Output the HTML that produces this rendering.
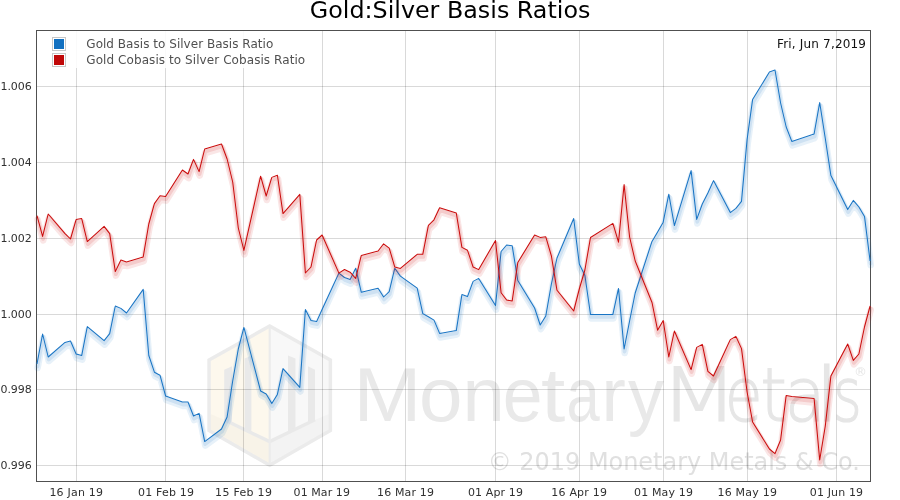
<!DOCTYPE html>
<html><head><meta charset="utf-8"><title>Gold:Silver Basis Ratios</title>
<style>
html,body{margin:0;padding:0;background:#fff;}
body{width:900px;height:500px;overflow:hidden;position:relative;font-family:"DejaVu Sans","Liberation Sans",sans-serif;}
svg{position:absolute;left:0;top:0;display:block;}
text{font-family:"DejaVu Sans","Liberation Sans",sans-serif;}
.wm{font-family:"Liberation Sans","DejaVu Sans",sans-serif;}
</style></head><body>
<svg width="900" height="500" viewBox="0 0 900 500">
<rect width="900" height="500" fill="#fff"/>

<g id="logo">
<polygon points="269.7,324 332.1,358.9 332.1,431.4 269.7,467.3 207.3,431.4 207.3,358.9" fill="#ebebeb"/>
<polygon points="269.7,328 269.7,463.3 210.8,429.4 210.8,360.9" fill="#fdf8ed"/>
<polygon points="269.7,328 328.6,360.9 328.6,429.4 269.7,463.3" fill="#f8f8f8"/>
<polygon points="224.2,369.8 232,366.2 232,424 224.2,420" fill="#e9e9e9"/>
<polygon points="244.6,358.6 251.4,355.4 251.4,433 244.6,429" fill="#e9e9e9"/>
<polygon points="288,355.4 295.5,358.6 295.5,429 288,433" fill="#e9e9e9"/>
<polygon points="308,366.2 315,369.8 315,420 308,424" fill="#e9e9e9"/>
<polygon points="210.8,414 224.2,419.8 269.7,441.6 315,419.8 328.6,414 328.6,429.4 269.7,463.3 210.8,429.4" fill="#000" fill-opacity="0.02"/>
<polyline points="224.2,419.8 269.7,441.6 315,419.8" fill="none" stroke="#e9e9e9" stroke-width="3.4"/>
<rect x="268.6" y="326" width="2.2" height="139" fill="#ebebeb"/>
</g>
<text y="421.3" font-size="76" fill="#e9e9e9" style="font-family:'Liberation Sans','DejaVu Sans',sans-serif"><tspan x="353.5" textLength="67.9" lengthAdjust="spacingAndGlyphs">M</tspan><tspan x="418.9" textLength="43.5" lengthAdjust="spacingAndGlyphs">o</tspan><tspan x="462.4" textLength="42.3" lengthAdjust="spacingAndGlyphs">n</tspan><tspan x="502.7" textLength="39.8" lengthAdjust="spacingAndGlyphs">e</tspan><tspan x="541.1" textLength="24.3" lengthAdjust="spacingAndGlyphs">t</tspan><tspan x="566.6" textLength="33.2" lengthAdjust="spacingAndGlyphs">a</tspan><tspan x="601.6" textLength="24.3" lengthAdjust="spacingAndGlyphs">r</tspan><tspan x="628" textLength="36" lengthAdjust="spacingAndGlyphs">y</tspan></text>
<text y="421.3" font-size="75" fill="#e6e6e6" style="font-family:'DejaVu Sans Light','DejaVu Sans',sans-serif;font-weight:200;stroke:#e6e6e6;stroke-width:1.2px"><tspan x="659.7" textLength="78.6" lengthAdjust="spacingAndGlyphs">M</tspan><tspan x="724.7" textLength="37.9" lengthAdjust="spacingAndGlyphs">e</tspan><tspan x="760.3" textLength="26.6" lengthAdjust="spacingAndGlyphs">t</tspan><tspan x="784.7" textLength="40.9" lengthAdjust="spacingAndGlyphs">a</tspan><tspan x="814.5" textLength="25" lengthAdjust="spacingAndGlyphs">l</tspan><tspan x="833.1" textLength="28.8" lengthAdjust="spacingAndGlyphs">s</tspan></text>
<text x="860.4" y="375.5" font-size="13" fill="#e6e6e6" text-anchor="middle">®</text>
<text x="487.8" y="470" font-size="24" fill="#e0e0e0" textLength="372" lengthAdjust="spacingAndGlyphs">© 2019 Monetary Metals &amp; Co.</text>
<g stroke="#000" stroke-opacity="0.15" stroke-width="1" shape-rendering="crispEdges">
<line x1="76.5" y1="31" x2="76.5" y2="481"/>
<line x1="165.5" y1="31" x2="165.5" y2="481"/>
<line x1="243.5" y1="31" x2="243.5" y2="481"/>
<line x1="322.5" y1="31" x2="322.5" y2="481"/>
<line x1="405.5" y1="31" x2="405.5" y2="481"/>
<line x1="495.5" y1="31" x2="495.5" y2="481"/>
<line x1="579.5" y1="31" x2="579.5" y2="481"/>
<line x1="663.5" y1="31" x2="663.5" y2="481"/>
<line x1="747.5" y1="31" x2="747.5" y2="481"/>
<line x1="836.5" y1="31" x2="836.5" y2="481"/>
<line x1="37" y1="86.5" x2="870" y2="86.5"/>
<line x1="37" y1="162.5" x2="870" y2="162.5"/>
<line x1="37" y1="238.5" x2="870" y2="238.5"/>
<line x1="37" y1="314.5" x2="870" y2="314.5"/>
<line x1="37" y1="389.5" x2="870" y2="389.5"/>
<line x1="37" y1="465.5" x2="870" y2="465.5"/>
</g>
<rect x="45" y="31" width="265" height="37" fill="#fff" opacity="0.85"/>
<rect x="52.5" y="37.5" width="13" height="13" fill="#fff" stroke="#c8c8c8"/><rect x="54" y="39" width="10" height="10" fill="#1270c0"/>
<rect x="52.5" y="53.5" width="13" height="13" fill="#fff" stroke="#c8c8c8"/><rect x="54" y="55" width="10" height="10" fill="#c00808"/>
<text x="86.3" y="48" font-size="12" fill="#505050" textLength="187" lengthAdjust="spacing">Gold Basis to Silver Basis Ratio</text>
<text x="86.3" y="64" font-size="12" fill="#505050" textLength="218.9" lengthAdjust="spacing">Gold Cobasis to Silver Cobasis Ratio</text>
<text x="777" y="48" font-size="12" fill="#111" textLength="89" lengthAdjust="spacing">Fri, Jun 7,2019</text>
<rect x="36.5" y="30.5" width="834" height="451" fill="none" stroke="#505050" stroke-width="1"/>
<polyline points="37.6,368.0 43.2,338.0 48.8,361.0 65.6,346.4 71.1,345.0 76.7,358.0 82.3,359.6 87.9,330.6 104.7,344.6 110.3,337.6 115.9,310.0 121.5,312.4 127.1,317.0 143.8,293.4 149.4,359.5 155.0,376.2 160.6,379.2 166.2,400.0 183.0,406.0 188.6,406.0 194.1,420.0 199.7,417.4 205.3,445.6 222.1,433.0 227.7,421.0 233.3,385.0 238.9,353.0 244.5,331.4 261.2,395.0 266.8,398.0 272.4,407.6 278.0,398.4 283.6,372.6 300.4,391.4 306.0,313.6 311.6,324.4 317.2,325.6 322.7,313.5 339.5,277.1 345.1,281.5 350.7,283.6 356.3,272.2 361.9,296.3 378.7,292.3 384.2,301.0 389.8,295.6 395.4,272.2 401.0,280.2 417.8,292.2 423.4,317.6 429.0,320.8 434.6,324.1 440.2,337.4 456.9,334.6 462.5,298.6 468.1,300.6 473.7,285.4 479.3,282.4 496.1,309.6 501.7,255.5 507.2,249.0 512.8,249.8 518.4,284.5 535.2,312.0 540.8,329.0 546.4,320.0 552.0,288.0 557.6,262.0 574.3,222.5 579.9,268.0 585.5,279.5 591.1,318.4 613.5,318.4 619.1,292.4 624.7,353.0 630.2,325.0 635.8,297.0 652.6,245.4 658.2,236.0 663.8,226.2 669.4,198.2 675.0,229.6 691.7,174.6 697.3,223.4 702.9,208.0 708.5,197.0 714.1,184.6 730.9,216.6 736.5,212.4 742.1,205.4 747.7,143.5 753.2,103.6 770.0,76.0 775.6,74.0 781.2,107.0 786.8,131.0 792.4,145.4 814.7,138.0 820.3,106.6 825.9,142.5 831.5,179.6 848.3,213.6 853.9,204.4 859.5,211.0 865.1,220.4 870.7,265.0" fill="none" stroke="#1874c4" stroke-opacity="0.10" stroke-width="6.6" stroke-linejoin="round" stroke-linecap="round"/>
<polyline points="37.5,366.5 43.1,336.5 48.7,359.5 65.5,344.9 71.0,343.5 76.6,356.5 82.2,358.1 87.8,329.1 104.6,343.1 110.2,336.1 115.8,308.5 121.4,310.9 127.0,315.5 143.7,291.9 149.3,358.0 154.9,374.7 160.5,377.7 166.1,398.5 182.9,404.5 188.5,404.5 194.0,418.5 199.6,415.9 205.2,444.1 222.0,431.5 227.6,419.5 233.2,383.5 238.8,351.5 244.4,329.9 261.1,393.5 266.7,396.5 272.3,406.1 277.9,396.9 283.5,371.1 300.3,389.9 305.9,312.1 311.5,322.9 317.1,324.1 322.6,312.0 339.4,275.6 345.0,280.0 350.6,282.1 356.2,270.7 361.8,294.8 378.6,290.8 384.1,299.5 389.7,294.1 395.3,270.7 400.9,278.7 417.7,290.7 423.3,316.1 428.9,319.3 434.5,322.6 440.1,335.9 456.8,333.1 462.4,297.1 468.0,299.1 473.6,283.9 479.2,280.9 496.0,308.1 501.6,254.0 507.1,247.5 512.7,248.3 518.3,283.0 535.1,310.5 540.7,327.5 546.3,318.5 551.9,286.5 557.5,260.5 574.2,221.0 579.8,266.5 585.4,278.0 591.0,316.9 613.4,316.9 619.0,290.9 624.6,351.5 630.1,323.5 635.7,295.5 652.5,243.9 658.1,234.5 663.7,224.7 669.3,196.7 674.9,228.1 691.6,173.1 697.2,221.9 702.8,206.5 708.4,195.5 714.0,183.1 730.8,215.1 736.4,210.9 742.0,203.9 747.6,142.0 753.1,102.1 769.9,74.5 775.5,72.5 781.1,105.5 786.7,129.5 792.3,143.9 814.6,136.5 820.2,105.1 825.8,141.0 831.4,178.1 848.2,212.1 853.8,202.9 859.4,209.5 865.0,218.9 870.6,263.5" fill="none" stroke="#1874c4" stroke-opacity="0.12" stroke-width="3.8" stroke-linejoin="round" stroke-linecap="round"/>
<polyline points="37.0,364.0 42.6,334.0 48.2,357.0 65.0,342.4 70.5,341.0 76.1,354.0 81.7,355.6 87.3,326.6 104.1,340.6 109.7,333.6 115.3,306.0 120.9,308.4 126.5,313.0 143.2,289.4 148.8,355.5 154.4,372.2 160.0,375.2 165.6,396.0 182.4,402.0 188.0,402.0 193.5,416.0 199.1,413.4 204.7,441.6 221.5,429.0 227.1,417.0 232.7,381.0 238.3,349.0 243.9,327.4 260.6,391.0 266.2,394.0 271.8,403.6 277.4,394.4 283.0,368.6 299.8,387.4 305.4,309.6 311.0,320.4 316.6,321.6 322.1,309.5 338.9,273.1 344.5,277.5 350.1,279.6 355.7,268.2 361.3,292.3 378.1,288.3 383.6,297.0 389.2,291.6 394.8,268.2 400.4,276.2 417.2,288.2 422.8,313.6 428.4,316.8 434.0,320.1 439.6,333.4 456.3,330.6 461.9,294.6 467.5,296.6 473.1,281.4 478.7,278.4 495.5,305.6 501.1,251.5 506.6,245.0 512.2,245.8 517.8,280.5 534.6,308.0 540.2,325.0 545.8,316.0 551.4,284.0 557.0,258.0 573.7,218.5 579.3,264.0 584.9,275.5 590.5,314.4 612.9,314.4 618.5,288.4 624.1,349.0 629.6,321.0 635.2,293.0 652.0,241.4 657.6,232.0 663.2,222.2 668.8,194.2 674.4,225.6 691.1,170.6 696.7,219.4 702.3,204.0 707.9,193.0 713.5,180.6 730.3,212.6 735.9,208.4 741.5,201.4 747.1,139.5 752.6,99.6 769.4,72.0 775.0,70.0 780.6,103.0 786.2,127.0 791.8,141.4 814.1,134.0 819.7,102.6 825.3,138.5 830.9,175.6 847.7,209.6 853.3,200.4 858.9,207.0 864.5,216.4 870.1,261.0" fill="none" stroke="#1874c4" stroke-width="1.02" stroke-linejoin="round"/>
<polyline points="37.6,219.6 43.2,240.4 48.8,218.0 65.6,237.6 71.1,243.0 76.7,223.6 82.3,222.6 87.9,245.6 104.7,230.4 110.3,237.6 115.9,275.6 121.5,264.0 127.1,266.0 143.8,261.0 149.4,228.0 155.0,207.6 160.6,199.8 166.2,200.6 183.0,174.0 188.6,178.0 194.1,163.4 199.7,175.6 205.3,153.0 222.1,148.0 227.7,163.0 233.3,186.0 238.9,232.0 244.5,254.4 261.2,180.2 266.8,200.0 272.4,181.4 278.0,179.2 283.6,217.6 300.4,198.4 306.0,277.0 311.6,271.0 317.2,244.0 322.7,239.0 339.5,277.1 345.1,273.5 350.7,276.2 356.3,282.5 361.9,259.4 378.7,255.0 384.2,247.8 389.8,252.1 395.4,271.1 401.0,272.4 417.8,258.3 423.4,258.3 429.0,229.4 434.6,223.8 440.2,211.8 456.9,217.1 462.5,251.4 468.1,254.3 473.7,271.0 479.3,273.6 496.1,244.5 501.7,296.7 507.2,304.0 512.8,305.0 518.4,266.5 535.2,239.0 540.8,241.4 546.4,240.8 552.0,260.0 557.6,294.3 574.3,315.0 579.9,293.0 585.5,274.0 591.1,241.5 613.5,227.4 619.1,246.2 624.7,188.6 630.2,241.0 635.8,265.0 652.6,306.5 658.2,334.2 663.8,324.5 669.4,361.0 675.0,335.0 691.7,373.6 697.3,351.4 702.9,348.4 708.5,375.4 714.1,380.0 730.9,343.6 736.5,340.4 742.1,352.6 747.7,396.0 753.2,426.0 770.0,453.0 775.6,457.6 781.2,444.0 786.8,399.4 792.4,400.4 814.7,402.6 820.3,464.0 825.9,430.0 831.5,380.0 848.3,348.0 853.9,364.4 859.5,358.0 865.1,331.0 870.7,310.0" fill="none" stroke="#ca0b0b" stroke-opacity="0.10" stroke-width="6.6" stroke-linejoin="round" stroke-linecap="round"/>
<polyline points="37.5,218.1 43.1,238.9 48.7,216.5 65.5,236.1 71.0,241.5 76.6,222.1 82.2,221.1 87.8,244.1 104.6,228.9 110.2,236.1 115.8,274.1 121.4,262.5 127.0,264.5 143.7,259.5 149.3,226.5 154.9,206.1 160.5,198.3 166.1,199.1 182.9,172.5 188.5,176.5 194.0,161.9 199.6,174.1 205.2,151.5 222.0,146.5 227.6,161.5 233.2,184.5 238.8,230.5 244.4,252.9 261.1,178.7 266.7,198.5 272.3,179.9 277.9,177.7 283.5,216.1 300.3,196.9 305.9,275.5 311.5,269.5 317.1,242.5 322.6,237.5 339.4,275.6 345.0,272.0 350.6,274.7 356.2,281.0 361.8,257.9 378.6,253.5 384.1,246.3 389.7,250.6 395.3,269.6 400.9,270.9 417.7,256.8 423.3,256.8 428.9,227.9 434.5,222.3 440.1,210.3 456.8,215.6 462.4,249.9 468.0,252.8 473.6,269.5 479.2,272.1 496.0,243.0 501.6,295.2 507.1,302.5 512.7,303.5 518.3,265.0 535.1,237.5 540.7,239.9 546.3,239.3 551.9,258.5 557.5,292.8 574.2,313.5 579.8,291.5 585.4,272.5 591.0,240.0 613.4,225.9 619.0,244.7 624.6,187.1 630.1,239.5 635.7,263.5 652.5,305.0 658.1,332.7 663.7,323.0 669.3,359.5 674.9,333.5 691.6,372.1 697.2,349.9 702.8,346.9 708.4,373.9 714.0,378.5 730.8,342.1 736.4,338.9 742.0,351.1 747.6,394.5 753.1,424.5 769.9,451.5 775.5,456.1 781.1,442.5 786.7,397.9 792.3,398.9 814.6,401.1 820.2,462.5 825.8,428.5 831.4,378.5 848.2,346.5 853.8,362.9 859.4,356.5 865.0,329.5 870.6,308.5" fill="none" stroke="#ca0b0b" stroke-opacity="0.12" stroke-width="3.8" stroke-linejoin="round" stroke-linecap="round"/>
<polyline points="37.0,215.6 42.6,236.4 48.2,214.0 65.0,233.6 70.5,239.0 76.1,219.6 81.7,218.6 87.3,241.6 104.1,226.4 109.7,233.6 115.3,271.6 120.9,260.0 126.5,262.0 143.2,257.0 148.8,224.0 154.4,203.6 160.0,195.8 165.6,196.6 182.4,170.0 188.0,174.0 193.5,159.4 199.1,171.6 204.7,149.0 221.5,144.0 227.1,159.0 232.7,182.0 238.3,228.0 243.9,250.4 260.6,176.2 266.2,196.0 271.8,177.4 277.4,175.2 283.0,213.6 299.8,194.4 305.4,273.0 311.0,267.0 316.6,240.0 322.1,235.0 338.9,273.1 344.5,269.5 350.1,272.2 355.7,278.5 361.3,255.4 378.1,251.0 383.6,243.8 389.2,248.1 394.8,267.1 400.4,268.4 417.2,254.3 422.8,254.3 428.4,225.4 434.0,219.8 439.6,207.8 456.3,213.1 461.9,247.4 467.5,250.3 473.1,267.0 478.7,269.6 495.5,240.5 501.1,292.7 506.6,300.0 512.2,301.0 517.8,262.5 534.6,235.0 540.2,237.4 545.8,236.8 551.4,256.0 557.0,290.3 573.7,311.0 579.3,289.0 584.9,270.0 590.5,237.5 612.9,223.4 618.5,242.2 624.1,184.6 629.6,237.0 635.2,261.0 652.0,302.5 657.6,330.2 663.2,320.5 668.8,357.0 674.4,331.0 691.1,369.6 696.7,347.4 702.3,344.4 707.9,371.4 713.5,376.0 730.3,339.6 735.9,336.4 741.5,348.6 747.1,392.0 752.6,422.0 769.4,449.0 775.0,453.6 780.6,440.0 786.2,395.4 791.8,396.4 814.1,398.6 819.7,460.0 825.3,426.0 830.9,376.0 847.7,344.0 853.3,360.4 858.9,354.0 864.5,327.0 870.1,306.0" fill="none" stroke="#ca0b0b" stroke-width="1.02" stroke-linejoin="round"/>
<text x="0.4" y="90" font-size="11" fill="#303030" textLength="31.4" lengthAdjust="spacing">1.006</text>
<text x="0.4" y="166" font-size="11" fill="#303030" textLength="31.4" lengthAdjust="spacing">1.004</text>
<text x="0.4" y="242" font-size="11" fill="#303030" textLength="31.4" lengthAdjust="spacing">1.002</text>
<text x="0.4" y="318" font-size="11" fill="#303030" textLength="31.4" lengthAdjust="spacing">1.000</text>
<text x="0.4" y="393" font-size="11" fill="#303030" textLength="31.4" lengthAdjust="spacing">0.998</text>
<text x="0.4" y="469" font-size="11" fill="#303030" textLength="31.4" lengthAdjust="spacing">0.996</text>
<text x="49.4" y="496" font-size="11" fill="#303030" textLength="53.6" lengthAdjust="spacing">16 Jan 19</text>
<text x="138.0" y="496" font-size="11" fill="#303030" textLength="55.9" lengthAdjust="spacing">01 Feb 19</text>
<text x="215.1" y="496" font-size="11" fill="#303030" textLength="56.8" lengthAdjust="spacing">15 Feb 19</text>
<text x="293.6" y="496" font-size="11" fill="#303030" textLength="56.3" lengthAdjust="spacing">01 Mar 19</text>
<text x="377.1" y="496" font-size="11" fill="#303030" textLength="56.8" lengthAdjust="spacing">16 Mar 19</text>
<text x="468.0" y="496" font-size="11" fill="#303030" textLength="54.9" lengthAdjust="spacing">01 Apr 19</text>
<text x="551.3" y="496" font-size="11" fill="#303030" textLength="55.6" lengthAdjust="spacing">16 Apr 19</text>
<text x="634.0" y="496" font-size="11" fill="#303030" textLength="58.9" lengthAdjust="spacing">01 May 19</text>
<text x="717.5" y="496" font-size="11" fill="#303030" textLength="59.4" lengthAdjust="spacing">16 May 19</text>
<text x="809.8" y="496" font-size="11" fill="#303030" textLength="53.3" lengthAdjust="spacing">01 Jun 19</text>
<text x="450.1" y="18" font-size="23.8" fill="#000" text-anchor="middle">Gold:Silver Basis Ratios</text>
</svg></body></html>
